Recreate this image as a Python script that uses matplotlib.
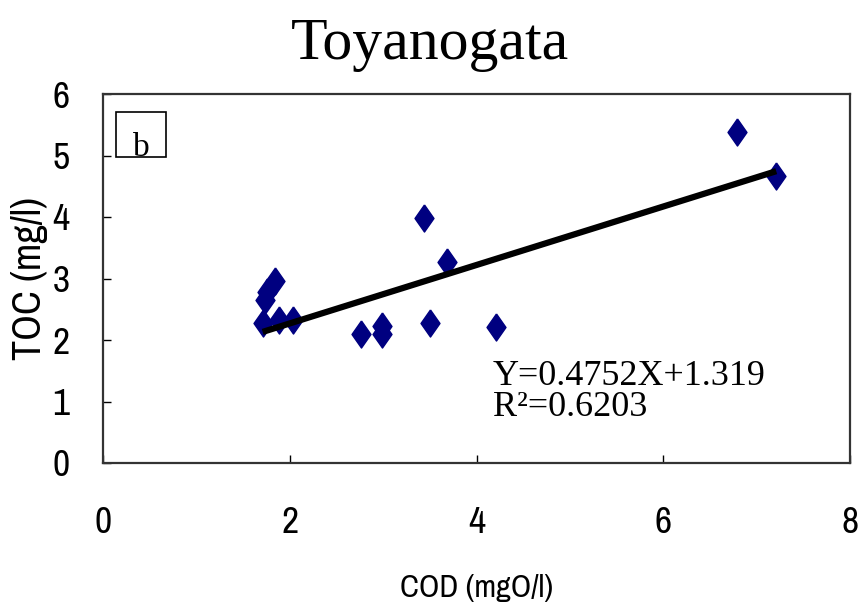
import numpy as np
import matplotlib.pyplot as plt
from matplotlib.patches import Rectangle
from matplotlib.path import Path

# COD vs TOC
cod = [1.71, 1.73, 1.76, 1.84, 1.88, 2.04, 2.76, 2.99, 2.99, 3.44, 3.50, 3.68, 4.21, 6.79, 7.21]
toc = [2.28, 2.65, 2.78, 2.96, 2.33, 2.33, 2.09, 2.22, 2.09, 3.99, 2.28, 3.27, 2.21, 5.39, 4.66]
slope = 0.4752
intercept = 1.319
r2 = 0.6203
xticks = [0, 2, 4, 6, 8]
yticks = [0, 1, 2, 3, 4, 5, 6]

sans = ['Archivo Narrow', 'DejaVu Sans']
serif = ['Liberation Serif', 'DejaVu Serif']

fig = plt.figure(figsize=(8.61, 6.15), dpi=100)
ax = fig.add_axes([103/861, 1 - 463/615, 747/861, 369/615])

diamond = Path([(0, 1), (0.7, 0), (0, -1), (-0.7, 0), (0, 1)])
ax.plot(cod, toc, linestyle='none', marker=diamond, ms=19.5,
        color='#000080', mec='#000080', zorder=2)

xs = np.sort(np.array(cod))
ax.plot(xs, slope * xs + intercept, color='black', lw=4.5,
        solid_capstyle='butt', zorder=3)

ax.set_xlim(0, 8)
ax.set_ylim(0, 6)
ax.set_xticks(xticks)
ax.set_yticks(yticks)
ax.tick_params(direction='in', length=6, width=1, colors='black')
ax.tick_params(axis='x', pad=31)
ax.tick_params(axis='y', pad=24)
for lab in ax.get_xticklabels() + ax.get_yticklabels():
    lab.set_family(sans)
    lab.set_fontsize(27)
for s in ax.spines.values():
    s.set_linewidth(1.6)
    s.set_color('#333333')

ax.set_xlabel('COD (mgO/l)', family=sans, fontsize=23, va='center')
ax.xaxis.set_label_coords(0.5, -0.339)
ax.set_ylabel('TOC (mg/l)', family=sans, fontsize=29, va='center')
ax.yaxis.set_label_coords(-0.098, 0.5)

fig.text(0.5, 1 - 59/615, 'Toyanogata', family=serif, fontsize=43,
         ha='center', va='baseline')

box = Rectangle((13/747, 306/369), 50/747, 45/369, transform=ax.transAxes,
                fill=False, ec='black', lw=1.2, zorder=4)
ax.add_patch(box)
t = ax.text(38/747, 330/369, 'b', transform=ax.transAxes, family=serif,
            fontsize=24, ha='center', va='top', zorder=4)
t.set_clip_path(box)

eq = 'Y=%.4fX+%.3f\nR²=%.4f' % (slope, intercept, r2)
ax.text(390/747, 47/369, eq, transform=ax.transAxes, family=serif,
        fontsize=26, va='baseline', linespacing=0.93)

fig.savefig('out.png', dpi=100)
